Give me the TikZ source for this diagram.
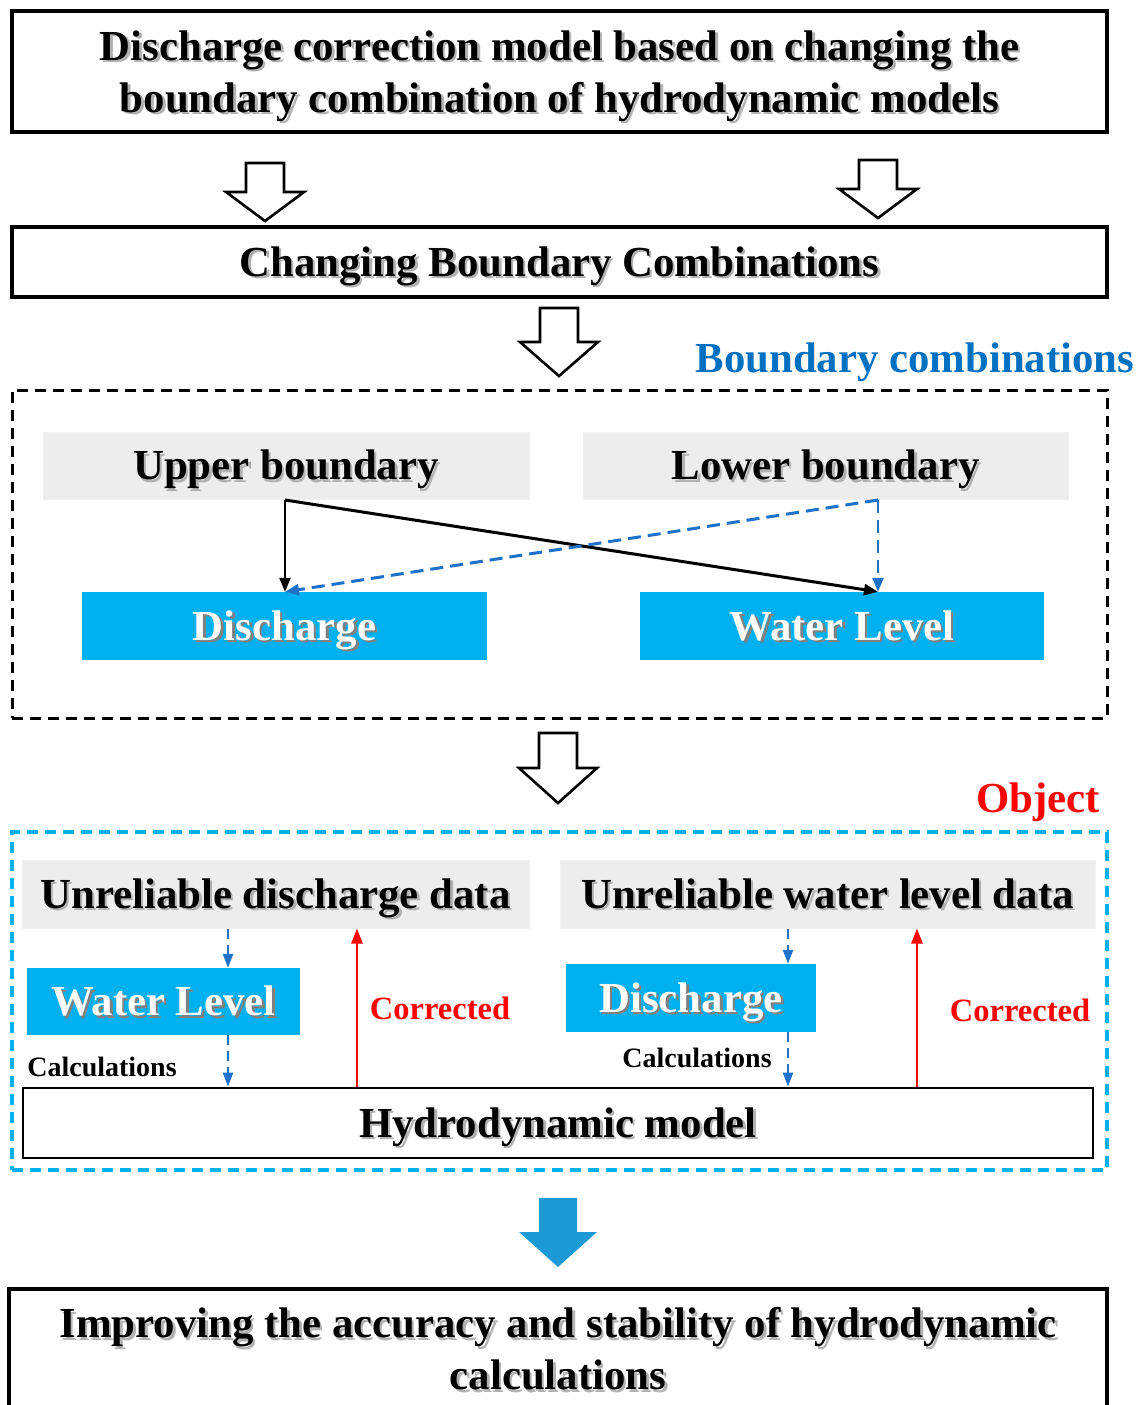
\documentclass[tikz,border=0pt]{standalone}
\usepackage{fontspec}
\setmainfont{Liberation Serif}
\usetikzlibrary{arrows.meta}
\definecolor{cyanbox}{HTML}{00B0F0}
\definecolor{bluetxt}{HTML}{0070C0}
\definecolor{bluedash}{HTML}{1F72C8}
\definecolor{grayfill}{HTML}{EDEDED}
\definecolor{bigblue}{HTML}{1B9AD6}
\definecolor{redtxt}{HTML}{FF0000}
\newcommand\shd[2][black!30]{\rlap{\kern2.5pt\raisebox{-2.5pt}{\textcolor{#1}{#2}}}#2}
\newcommand\blockarrow[5]{% style, cx, top, headstart, tip
  \draw[#1] (#2-19,#3) -- (#2+19,#3) -- (#2+19,#4) -- (#2+39,#4) -- (#2,#5) -- (#2-39,#4) -- (#2-19,#4) -- cycle;}
\begin{document}
\begin{tikzpicture}[x=1pt,y=-1pt,
  big/.style={font=\fontsize{42.8}{52}\selectfont\bfseries},
  one/.style={text height=31pt,text depth=3pt},
  outbox/.style={draw=black,line width=3.5pt,fill=white,inner sep=0pt,align=center,big},
  graybox/.style={fill=grayfill,draw=black!6,line width=1pt,inner sep=0pt,big,one},
  bluebox/.style={fill=cyanbox,inner sep=0pt,text=white,big,one},
  hollow/.style={draw=black,line width=2.6pt,fill=white,line join=miter},
  blk/.style={draw=black,line width=3pt,-{Triangle[length=14pt,width=11pt]}},
  bdash/.style={draw=bluedash,line width=3pt,dash pattern=on 13pt off 7pt,-{Triangle[length=14pt,width=11pt]}},
  sdash/.style={draw=bluedash,line width=2.4pt,dash pattern=on 10pt off 6pt,-{Triangle[length=14pt,width=10pt]}},
  redar/.style={draw=redtxt,line width=2.6pt,-{Triangle[length=15pt,width=11pt]}}
]
\useasboundingbox (0,0) rectangle (1140,1405);
\fill[white] (0,0) rectangle (1140,1405);

% top boxes
\node[outbox,minimum width=1095pt,minimum height=121pt] (title) at (559.5,71.5) {};
\node[big,align=center,inner sep=0pt] (titletext) at (559.5,77.5)
  {\shd{Discharge correction model based on changing the}\\\shd{boundary combination of hydrodynamic models}};
\blockarrow{hollow}{265}{163}{192}{221}
\blockarrow{hollow}{878}{160}{189}{218}
\node[outbox,one,minimum width=1095pt,minimum height=70pt] (change) at (559.5,262)
  {\shd{Changing Boundary Combinations}};
\blockarrow{hollow}{559}{308}{342}{376}

% boundary combinations
\node[big,one,text=bluetxt,inner sep=0pt] (bclabel) at (915,358) {Boundary combinations};
\node[draw=black,line width=3pt,dash pattern=on 11pt off 7pt,minimum width=1095pt,minimum height=328pt,inner sep=0pt] (bcbox) at (559.5,554) {};
\node[graybox,minimum width=486pt,minimum height=67pt] (upper) at (286,465.5) {\shd{Upper boundary}};
\node[graybox,minimum width=485pt,minimum height=67pt] (lower) at (825.5,465.5) {\shd{Lower boundary}};
\node[bluebox,minimum width=405pt,minimum height=68pt] (disc) at (284.5,626) {\shd[black!50]{Discharge}};
\node[bluebox,minimum width=404pt,minimum height=68pt] (wl) at (842,626) {\shd[black!50]{Water Level}};
\coordinate (ub) at (285,500);
\coordinate (lb) at (878,500);
\draw[blk,line width=2.4pt] (ub) -- (disc.north -| ub);
\draw[blk] (ub) -- (wl.north -| lb);
\draw[bdash] (lb) -- (disc.north -| ub);
\draw[bdash,line width=2.4pt] (lb) -- (wl.north -| lb);

\blockarrow{hollow}{558}{733}{768}{803}

% object
\node[big,one,text=redtxt,inner sep=0pt] (objlabel) at (1038,798) {Object};
\node[draw=cyanbox,line width=3.2pt,dash pattern=on 11pt off 7pt,minimum width=1095pt,minimum height=338pt,inner sep=0pt] (objbox) at (559.5,1001) {};
\node[graybox,minimum width=507pt,minimum height=68pt] (uq) at (275.5,894) {\shd{Unreliable discharge data}};
\node[graybox,minimum width=535pt,minimum height=68pt] (uh) at (827.5,894) {\shd{Unreliable water level data}};
\node[bluebox,minimum width=273pt,minimum height=67pt] (wl2) at (163.5,1001.5) {\shd[black!50]{Water Level}};
\node[bluebox,minimum width=250pt,minimum height=68pt] (q2) at (691,998) {\shd[black!50]{Discharge}};
\node[draw=black,line width=2.8pt,fill=white,inner sep=0pt,big,one,minimum width=1070pt,minimum height=70pt] (hydro) at (558,1123) {\shd{Hydrodynamic model}};

\coordinate (c1) at (228,0);
\coordinate (c2) at (788,0);
\coordinate (r1) at (357,0);
\coordinate (r2) at (917,0);
\draw[sdash] (uq.south -| c1) -- (wl2.north -| c1);
\draw[sdash] (wl2.south -| c1) -- (hydro.north -| c1);
\draw[sdash] (uh.south -| c2) -- (q2.north -| c2);
\draw[sdash] (q2.south -| c2) -- (hydro.north -| c2);
\draw[redar] (hydro.north -| r1) -- (uq.south -| r1);
\draw[redar] (hydro.north -| r2) -- (uh.south -| r2);

\node[font=\fontsize{32.5}{38}\selectfont\bfseries,text=redtxt,inner sep=0pt] (corr1) at (440,1008) {Corrected};
\node[font=\fontsize{32.5}{38}\selectfont\bfseries,text=redtxt,inner sep=0pt] (corr2) at (1020,1010) {Corrected};
\node[font=\fontsize{28}{33}\selectfont\bfseries,inner sep=0pt] (calc1) at (102,1067) {Calculations};
\node[font=\fontsize{28}{33}\selectfont\bfseries,inner sep=0pt] (calc2) at (697,1058) {Calculations};

% result
\blockarrow{draw=none,fill=bigblue}{558}{1198}{1232}{1267}
\node[outbox,minimum width=1098pt,minimum height=122pt] (result) at (558,1350)
  {\shd{Improving the accuracy and stability of hydrodynamic}\\\shd{calculations}};
\end{tikzpicture}
\end{document}
